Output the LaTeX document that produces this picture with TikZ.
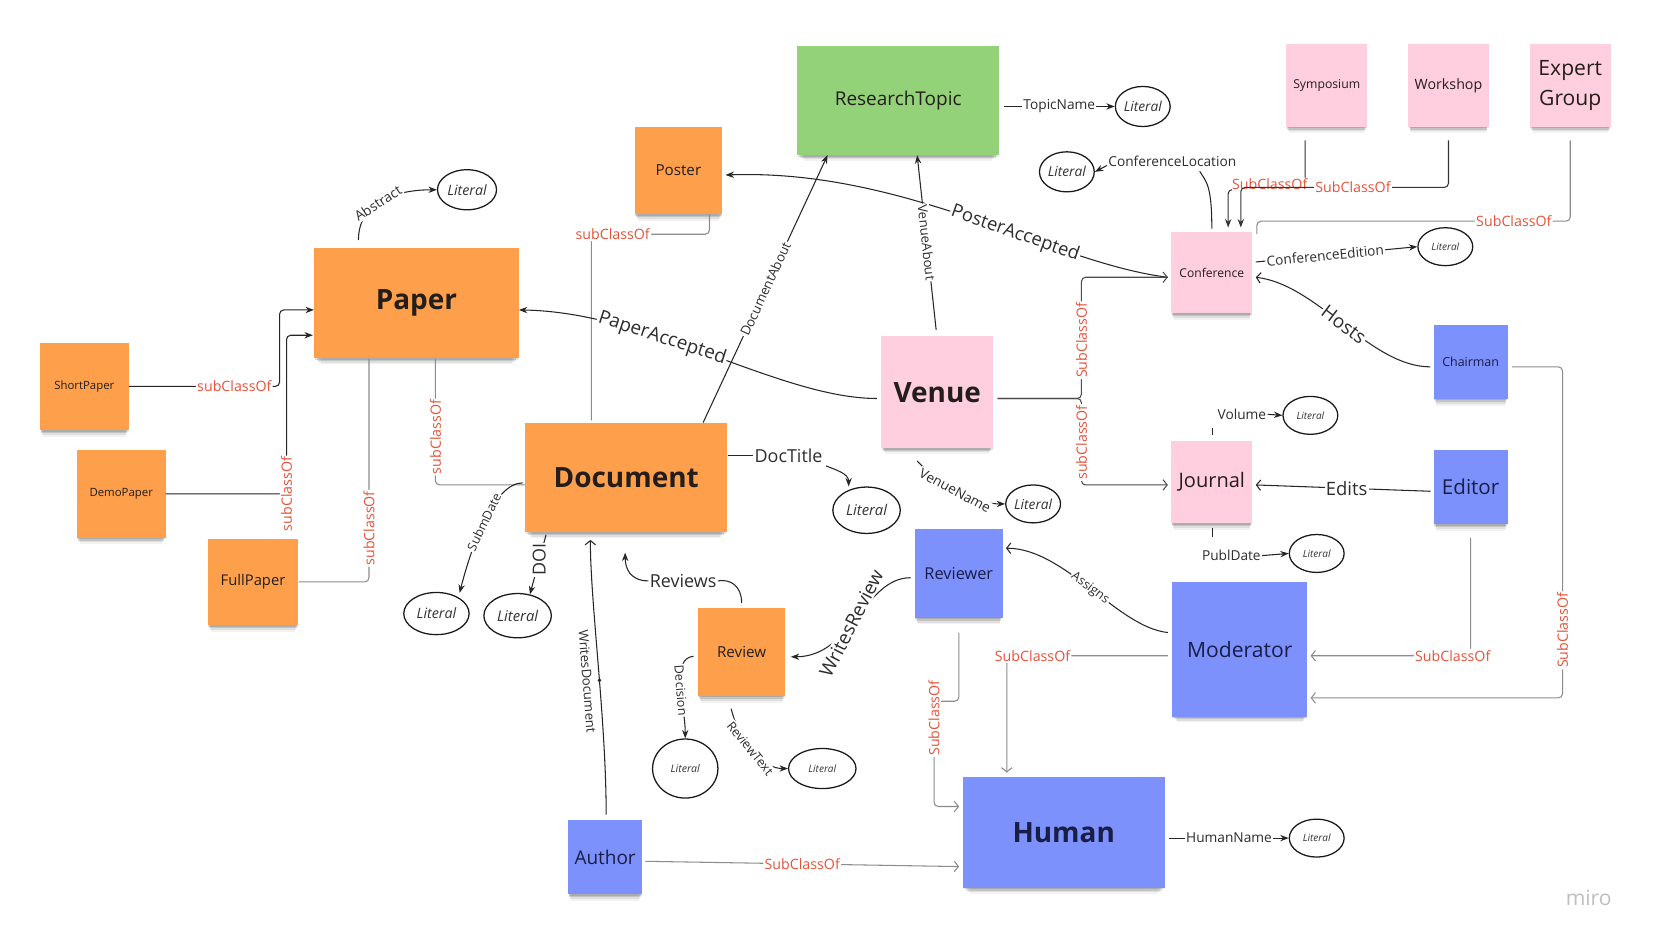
\documentclass[tikz,border=0pt]{standalone}
\usepackage{fontspec}
\setmainfont{Open Sans}
\usetikzlibrary{arrows.meta,shapes.geometric,shadows,calc}
\definecolor{cOrange}{RGB}{254,159,76}
\definecolor{cGreen}{RGB}{147,210,120}
\definecolor{cPink}{RGB}{255,206,223}
\definecolor{cBlue}{RGB}{125,145,252}
\definecolor{cRed}{RGB}{228,83,58}
\definecolor{cLab}{RGB}{45,45,45}
\definecolor{cTextDark}{RGB}{35,30,28}
\definecolor{cTextBlue}{RGB}{25,30,70}
\newcommand\myfs[1]{\fontsize{#1}{#1}\selectfont}
\tikzset{
  sticky/.style={rectangle,draw=none,inner sep=1pt,align=center,
    drop shadow={shadow xshift=0pt,shadow yshift=-10pt,opacity=.05,fill=black,shadow scale=.93},
    drop shadow={shadow xshift=0pt,shadow yshift=-7pt,opacity=.08,fill=black,shadow scale=.95},
    drop shadow={shadow xshift=0pt,shadow yshift=-4.5pt,opacity=.12,fill=black,shadow scale=.97},
    drop shadow={shadow xshift=0pt,shadow yshift=-2pt,opacity=.12,fill=black,shadow scale=.99}},
  onote/.style={sticky,fill=cOrange,text=cTextDark},
  gnote/.style={sticky,fill=cGreen,text=cTextDark},
  pnote/.style={sticky,fill=cPink,text=cTextDark},
  bnote/.style={sticky,fill=cBlue,text=cTextBlue},
  lit/.style={ellipse,draw=black!90,line width=1.2pt,inner sep=0pt,fill=white,text=black!80},
  elab/.style={fill=white,inner sep=1.2pt,text=cLab},
  slab/.style={fill=white,inner sep=1.2pt,text=cRed,font=\myfs{13.5}},
  rel/.style={draw=black!85,line width=1pt,-{Stealth[length=8pt,width=6pt]}},
  relline/.style={draw=black!85,line width=1pt},
  relopen/.style={draw=black!85,line width=1pt,-{Straight Barb[length=4pt,width=10pt]}},
  subblack/.style={draw=black!85,line width=1pt,rounded corners=4pt,-{Stealth[length=8pt,width=6pt]}},
  subdarks/.style={draw=black!80,line width=1pt,rounded corners=4pt,-{Stealth[length=8pt,width=6pt]}},
  subdark/.style={draw=black!70,line width=1pt,rounded corners=4pt,-{Straight Barb[length=4pt,width=10pt]}},
  subgray/.style={draw=black!45,line width=1pt,rounded corners=4pt},
  subgrayo/.style={subgray,-{Straight Barb[length=4pt,width=10pt]}},
}
\begin{document}
\begin{tikzpicture}[x=1pt,y=-1pt]
\useasboundingbox (0,0) rectangle (1568,895);
\fill[white] (0,0) rectangle (1568,895);

% ---------- sticky notes ----------
\node[onote,minimum width=83pt,minimum height=83pt,font=\myfs{14.4}] (Poster) at (643.5,161.5) {Poster};
\node[onote,minimum width=194pt,minimum height=105pt,font=\bfseries\myfs{26.5}] (Paper) at (395,287.5) {Paper};
\node[onote,minimum width=84pt,minimum height=83pt,font=\myfs{10.8}] (ShortPaper) at (80,366.5) {ShortPaper};
\node[onote,minimum width=84pt,minimum height=83pt,font=\myfs{10.8}] (DemoPaper) at (115,468.5) {DemoPaper};
\node[onote,minimum width=86pt,minimum height=82pt,font=\myfs{14}] (FullPaper) at (240,552) {FullPaper};
\node[onote,minimum width=192pt,minimum height=104pt,font=\bfseries\myfs{26.5}] (Document) at (594,453) {Document};
\node[onote,minimum width=83pt,minimum height=83pt,font=\myfs{14.4}] (Review) at (703.5,618.5) {Review};
\node[gnote,minimum width=192pt,minimum height=103pt,font=\myfs{18}] (ResearchTopic) at (852,95.5) {ResearchTopic};
\node[pnote,minimum width=77pt,minimum height=78pt,font=\myfs{11.6}] (Symposium) at (1258.5,81) {Symposium};
\node[pnote,minimum width=76pt,minimum height=78pt,font=\myfs{13.5}] (Workshop) at (1374,81) {Workshop};
\node[pnote,minimum width=77pt,minimum height=78pt,font=\fontsize{20}{29}\selectfont] (ExpertGroup) at (1489.5,81) {Expert\\Group};
\node[pnote,minimum width=77pt,minimum height=77pt,font=\myfs{11.5}] (Conference) at (1149.5,258.5) {Conference};
\node[pnote,minimum width=106pt,minimum height=106pt,font=\bfseries\myfs{26.5}] (Venue) at (889,372) {Venue};
\node[pnote,minimum width=77pt,minimum height=78pt,font=\myfs{19}] (Journal) at (1149.5,457) {Journal};
\node[bnote,minimum width=70pt,minimum height=70pt,font=\myfs{11.8}] (Chairman) at (1395,343) {Chairman};
\node[bnote,minimum width=70pt,minimum height=70pt,font=\myfs{19.5}] (Editor) at (1395,462) {Editor};
\node[bnote,minimum width=83pt,minimum height=84pt,font=\myfs{15.5}] (Reviewer) at (909.5,544) {Reviewer};
\node[bnote,minimum width=128pt,minimum height=128pt,font=\myfs{20}] (Moderator) at (1176,616) {Moderator};
\node[bnote,minimum width=192pt,minimum height=105pt,font=\bfseries\myfs{26.5}] (Human) at (1009,789.5) {Human};
\node[bnote,minimum width=70pt,minimum height=70pt,font=\myfs{18}] (Author) at (574,813) {Author};

% ---------- literals ----------
\node[lit,minimum width=56pt,minimum height=38pt,font=\itshape\myfs{13.5}] (litAbs) at (443,180) {Literal};
\node[lit,minimum width=52pt,minimum height=38pt,font=\itshape\myfs{13}] (litTopic) at (1084,101) {Literal};
\node[lit,minimum width=52pt,minimum height=38pt,font=\itshape\myfs{13}] (litLoc) at (1012,163) {Literal};
\node[lit,minimum width=52pt,minimum height=36pt,font=\itshape\myfs{9.5}] (litEd) at (1371,234) {Literal};
\node[lit,minimum width=52pt,minimum height=36pt,font=\itshape\myfs{9.5}] (litVol) at (1243,394) {Literal};
\node[lit,minimum width=52pt,minimum height=36pt,font=\itshape\myfs{9.5}] (litPub) at (1249,525) {Literal};
\node[lit,minimum width=52pt,minimum height=36pt,font=\itshape\myfs{9.5}] (litHum) at (1249,795) {Literal};
\node[lit,minimum width=64pt,minimum height=44pt,font=\itshape\myfs{14}] (litDoc) at (822,484) {Literal};
\node[lit,minimum width=52pt,minimum height=36pt,font=\itshape\myfs{13}] (litVen) at (980,478) {Literal};
\node[lit,minimum width=62pt,minimum height=40pt,font=\itshape\myfs{13.5}] (litSub) at (414,582) {Literal};
\node[lit,minimum width=64pt,minimum height=42pt,font=\itshape\myfs{14}] (litDOI) at (491,584) {Literal};
\node[lit,minimum width=62pt,minimum height=56pt,font=\itshape\myfs{10}] (litDec) at (650,729) {Literal};
\node[lit,minimum width=64pt,minimum height=38pt,font=\itshape\myfs{9.5}] (litRT) at (780,729) {Literal};

% ---------- left: papers ----------
\draw[rel] ([xshift=-55pt,yshift=7pt]Paper.north) .. controls +(0,-40) and +(-32,0) .. (litAbs.west)
  node[elab,sloped,pos=.42,font=\myfs{13}] (lAbs) {Abstract};
\draw[subblack] (ShortPaper.east) -- ++(143,0) node[slab,pos=.7] (sShort) {subClassOf}
  |- ([yshift=-6.5pt]Paper.west);
\draw[subblack] (DemoPaper.east) -| node[slab,rotate=90,pos=.5] (sDemo) {subClassOf}
  ([xshift=-26pt,yshift=-30.5pt]Paper.west) -- ([xshift=-1pt,yshift=-30.5pt]Paper.west);
\draw[subgray] (FullPaper.east) -| node[slab,rotate=90,pos=.62] (sFull) {subClassOf} ([xshift=-45pt]Paper.south);
\draw[subgray] ([xshift=18pt]Paper.south) |- node[slab,rotate=90,pos=.31] (sDoc) {subClassOf} ([yshift=-7pt]Document.west);
\draw[subgray] ([xshift=-33pt,yshift=2pt]Document.north) |- node[slab,pos=.59] (sPoster) {subClassOf}
  ([xshift=29.5pt,yshift=-19pt]Poster.south) -- ([xshift=29.5pt]Poster.south);

% ---------- accepted ----------
\draw[rel] ([xshift=-4pt,yshift=-6pt]Venue.west) .. controls +(-92,0) and +(124,2) .. ([yshift=-6.5pt]Paper.east)
  node[elab,sloped,pos=.63,font=\myfs{18}] (lPA) {PaperAccepted};
\draw[rel] ([xshift=-3pt,yshift=-4.5pt]Conference.west) .. controls +(-108,-13) and +(172,-6) .. ([xshift=3pt,yshift=-4.5pt]Poster.east)
  node[elab,sloped,pos=.4,font=\myfs{17.5}] (lPoA) {PosterAccepted};

% ---------- research topic ----------
\draw[rel] ([xshift=73pt]Document.north) -- node[elab,sloped,font=\myfs{12.5}] (lDA) {DocumentAbout} ([xshift=-67pt]ResearchTopic.south);
\draw[rel] ([xshift=-1pt,yshift=6pt]Venue.north) -- node[elab,sloped,font=\myfs{12.5}] (lVA) {VenueAbout} ([xshift=18pt]ResearchTopic.south);
\draw[rel] ($(ResearchTopic.east |- litTopic.west)+(4,0)$) -- node[elab,font=\myfs{13}] (lTN) {TopicName} (litTopic.west);

% ---------- conference ----------
\node[elab,font=\myfs{13}] (lLoc) at (1112,153) {ConferenceLocation};
\draw[relline] ([yshift=3pt]Conference.north) .. controls +(0,-42) and +(6,10) .. ([xshift=26pt,yshift=-3pt]lLoc.south);
\draw[rel] ([yshift=-4pt]lLoc.west) -- (litLoc.east);
\draw[subdarks] ([xshift=-20.5pt,yshift=-13pt]Symposium.south) |- node[slab,pos=.73,yshift=5pt] (sSym) {SubClassOf}
  ([xshift=15.5pt,yshift=40pt]Conference.north) -- ([xshift=15.5pt,yshift=4pt]Conference.north);
\draw[subdarks] ([yshift=-13pt]Workshop.south) |- node[slab,pos=.73] (sWork) {SubClassOf}
  ([xshift=27.5pt,yshift=42pt]Conference.north) -- ([xshift=27.5pt,yshift=4pt]Conference.north);
\draw[subgray] ([yshift=-13pt]ExpertGroup.south) |- node[slab,pos=.59] (sEG) {SubClassOf}
  ([xshift=4pt,yshift=10pt]Conference.north east) -- ([xshift=4pt,yshift=-2pt]Conference.north east);
\draw[rel] ([xshift=3pt,yshift=10pt]Conference.east) -- node[elab,sloped,pos=.43,font=\myfs{13}] (lCE) {ConferenceEdition} (litEd.west);
\draw[relopen] ([xshift=-3pt,yshift=-5pt]Chairman.west) .. controls +(-57,0) and +(59,7) .. ([xshift=3pt,yshift=-4.5pt]Conference.east)
  node[elab,sloped,pos=.5,font=\myfs{18}] (lHosts) {Hosts};

% ---------- venue subclasses ----------
\draw[subdark] ([xshift=4pt,yshift=-6pt]Venue.east) -| node[slab,rotate=90,pos=.74] (sConf) {SubClassOf}
  ([xshift=-85pt,yshift=-4.5pt]Conference.west) -- ([xshift=-3pt,yshift=-4.5pt]Conference.west);
\draw[subdark] ([xshift=4pt,yshift=-6pt]Venue.east) -| node[slab,rotate=90,pos=.755] (sJour) {subClassOf}
  ([xshift=-85pt,yshift=-3pt]Journal.west) -- ([xshift=-3pt,yshift=-3pt]Journal.west);

% ---------- journal ----------
\node[elab,font=\myfs{13}] (lVol) at (1178,393) {Volume};
\draw[relline] ([xshift=1pt,yshift=5pt]Journal.north) -- ([xshift=1pt,yshift=12pt]Journal.north);
\draw[rel] (lVol.east) -- (litVol.west);
\node[elab,font=\myfs{13}] (lPub) at (1168,527) {PublDate};
\draw[relline] ([xshift=1pt,yshift=-5pt]Journal.south) -- ([xshift=1pt,yshift=-13pt]Journal.south);
\draw[rel] (lPub.east) -- (litPub.west);
\draw[relopen] ([xshift=-3pt,yshift=-4pt]Editor.west) -- node[elab,pos=.48,font=\myfs{17.5}] (lEdits) {Edits} ([xshift=3pt,yshift=-3pt]Journal.east);

% ---------- people ----------
\draw[subgrayo] ([xshift=4pt,yshift=-5pt]Chairman.east) -| node[slab,rotate=90,pos=.898] (sChair) {SubClassOf}
  ([xshift=242pt,yshift=-46pt]Moderator.east) -- ([xshift=3pt,yshift=-46pt]Moderator.east);
\draw[subgrayo] ([yshift=-13pt]Editor.south) |- node[slab,pos=.556] (sEdit) {SubClassOf} ([xshift=3pt,yshift=-6pt]Moderator.east);
\draw[rel] ([xshift=-19pt,yshift=-12pt]Venue.south) .. controls +(30,32) and +(-22,0) .. (litVen.west)
  node[elab,sloped,pos=.4,font=\myfs{13}] (lVN) {VenueName};
\draw[relopen] ([xshift=-4pt,yshift=16pt]Moderator.west) .. controls +(-48,-5) and +(56,0) .. ([xshift=3pt,yshift=24pt]Reviewer.east)
  node[elab,sloped,pos=.5,font=\myfs{12}] (lAss) {Assigns};
\draw[subgrayo] ([xshift=-4pt,yshift=-6pt]Moderator.west) -| node[slab,pos=.42] (sMod) {SubClassOf} ([xshift=-54pt,yshift=4pt]Human.north);
\draw[subgrayo] ([yshift=-14pt]Reviewer.south) -- ++(0,65) -- ++(-23.5,0) |- node[slab,rotate=90,pos=.08] (sRev) {SubClassOf}
  ([xshift=-3pt,yshift=24.5pt]Human.west);
\draw[subgrayo] ([xshift=3pt,yshift=-4pt]Author.east) -- node[slab,pos=.5] (sAuth) {SubClassOf} ([xshift=-3pt,yshift=-32.5pt]Human.west);
\draw[rel] ([xshift=4pt,yshift=-5.5pt]Human.east) -- node[elab,font=\myfs{13}] (lHN) {HumanName} (litHum.west);

% ---------- document relations ----------
\draw[relopen] ([xshift=1pt,yshift=5pt]Author.north) .. controls +(0,-90) and +(0,60) .. ([xshift=-34pt,yshift=-7pt]Document.south)
  node[pos=.45,circle,fill=black!85,inner sep=1.3pt] (dotWD) {}
  node[pos=.45,sloped,below=3pt,text=cLab,font=\myfs{12.5}] (lWD) {WritesDocument};
\node[elab,font=\myfs{17}] (lRevs) at (648,551) {Reviews};
\draw[relline] ([yshift=5pt]Review.north) .. controls +(0,-16) and +(12,-2) .. (lRevs.east);
\draw[rel] (lRevs.west) .. controls +(-18,0) and +(0,14) .. ([xshift=-1pt,yshift=-19pt]Document.south);
\draw[rel] ([xshift=-4pt,yshift=-4pt]Reviewer.west) .. controls +(-44,0) and +(58,0) .. ([xshift=5pt,yshift=-4.5pt]Review.east)
  node[elab,pos=.55,rotate=63,font=\myfs{18}] (lWR) {WritesReview};
\draw[rel] ([xshift=-4pt,yshift=-4pt]Review.west) .. controls +(-22,2) and +(0,-32) .. (litDec.north)
  node[elab,sloped,pos=.55,font=\myfs{12}] (lDec) {Decision};
\draw[rel] ([xshift=-10pt,yshift=-12pt]Review.south) .. controls +(10,38) and +(-22,0) .. (litRT.west)
  node[elab,sloped,pos=.42,font=\myfs{12}] (lRT) {ReviewText};
\node[elab,font=\myfs{17}] (lDT) at (748,432) {DocTitle};
\draw[relline] ([yshift=21pt]Document.east) -- (lDT.west);
\draw[rel] ([xshift=2pt,yshift=-2pt]lDT.south east) .. controls +(10,4) and +(0,-12) .. ([xshift=-17pt]litDoc.north);
\draw[rel] ([xshift=-2pt,yshift=-5pt]Document.west) .. controls +(-28,0) and +(10,-40) .. ([xshift=22pt,yshift=-1pt]litSub.north)
  node[elab,sloped,pos=.5,font=\myfs{12}] (lSD) {SubmDate};
\draw[rel] ([xshift=-76pt,yshift=-2pt]Document.south) -- node[elab,rotate=90,pos=.42,font=\myfs{17}] (lDOI) {DOI} (litDOI.60);

\node[text=black!25,font=\myfs{20}] (miro) at (1507,852) {miro};
\end{tikzpicture}
\end{document}
